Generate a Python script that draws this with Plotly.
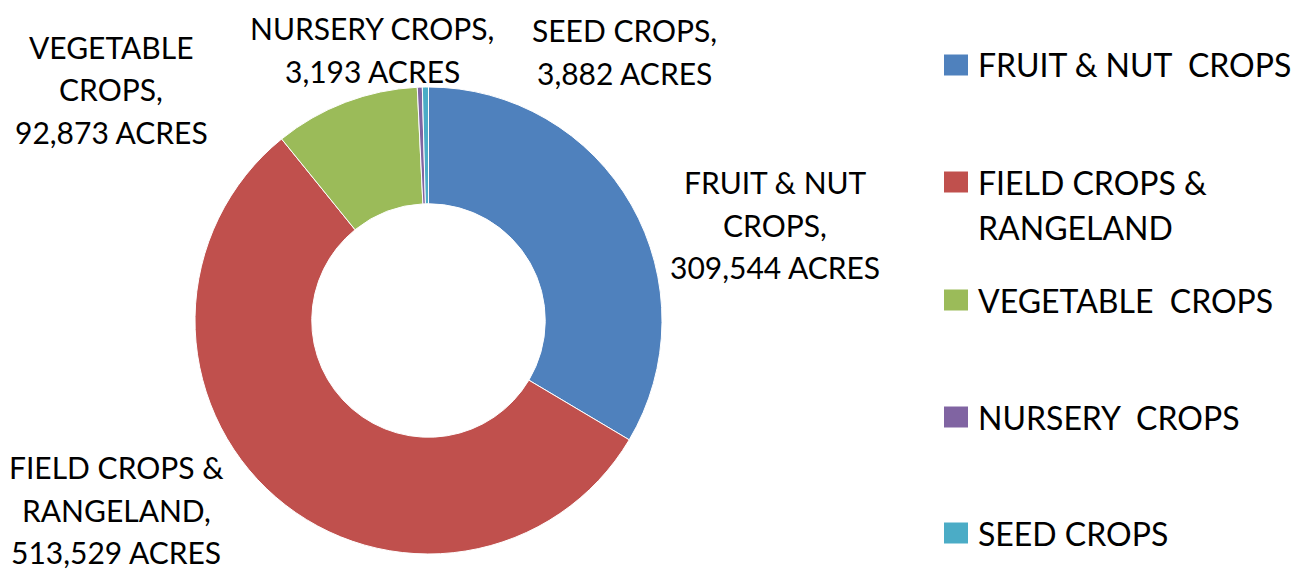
import plotly.graph_objects as go

categories = ["FRUIT & NUT CROPS", "FIELD CROPS & RANGELAND", "VEGETABLE CROPS",
              "NURSERY CROPS", "SEED CROPS"]
acres = [309544, 513529, 92873, 3193, 3882]
colors = ["#4F81BD", "#C0504D", "#9BBB59", "#8064A2", "#4BACC6"]

# how the data labels wrap (as in the reference)
label_lines = [
    ["FRUIT & NUT", "CROPS,", "{v} ACRES"],
    ["FIELD CROPS &", "RANGELAND,", "{v} ACRES"],
    ["VEGETABLE", "CROPS,", "{v} ACRES"],
    ["NURSERY CROPS,", "{v} ACRES"],
    ["SEED CROPS,", "{v} ACRES"],
]
legend_lines = [
    ["FRUIT & NUT  CROPS"],
    ["FIELD CROPS &", "RANGELAND"],
    ["VEGETABLE  CROPS"],
    ["NURSERY  CROPS"],
    ["SEED CROPS"],
]

W, H = 1308, 571
FONT = "Lato"
FS_LABEL = 30
FS_LEGEND = 32


def px(x):
    return x / W


def py(y):
    return 1 - y / H


fig = go.Figure(go.Pie(
    labels=categories, values=acres, hole=0.5, sort=False,
    direction="clockwise", rotation=0,
    marker=dict(colors=colors, line=dict(color="white", width=1)),
    textinfo="none", hoverinfo="label+value", showlegend=False,
    domain=dict(x=[px(195), px(662)], y=[py(554), py(87)]),
))

# data label centres (pixel positions) and first-line y
label_pos = [(775, 182), (116, 467), (111, 47), (372, 28), (624, 30)]
LINE = 42.5
annotations = []
for lines, v, (cx, cy) in zip(label_lines, acres, label_pos):
    for i, ln in enumerate(lines):
        annotations.append(dict(
            text=ln.format(v=f"{v:,}"), x=px(cx), y=py(cy + i * LINE),
            xref="paper", yref="paper", xanchor="center", yanchor="middle",
            showarrow=False, font=dict(family=FONT, size=FS_LABEL, color="black")))

# legend
legend_y = [65, 182, 300, 417, 533]
shapes = []
for lines, col, ly in zip(legend_lines, colors, legend_y):
    shapes.append(dict(type="rect", xref="paper", yref="paper",
                       x0=px(944), x1=px(968), y0=py(ly - 10.5), y1=py(ly + 10.5),
                       fillcolor=col, line=dict(width=0)))
    for i, ln in enumerate(lines):
        annotations.append(dict(
            text=ln.replace("  ", "&nbsp; "), x=px(976), y=py(ly + i * 46),
            xref="paper", yref="paper", xanchor="left", yanchor="middle",
            showarrow=False, font=dict(family=FONT, size=FS_LEGEND, color="black")))

fig.update_layout(
    width=W, height=H, margin=dict(l=0, r=0, t=0, b=0),
    paper_bgcolor="white", plot_bgcolor="white",
    annotations=annotations, shapes=shapes,
)
fig.write_html(
    "out.html",
    config={"displayModeBar": False},
    post_script="document.body.style.margin='0';document.body.style.overflow='hidden';",
)
